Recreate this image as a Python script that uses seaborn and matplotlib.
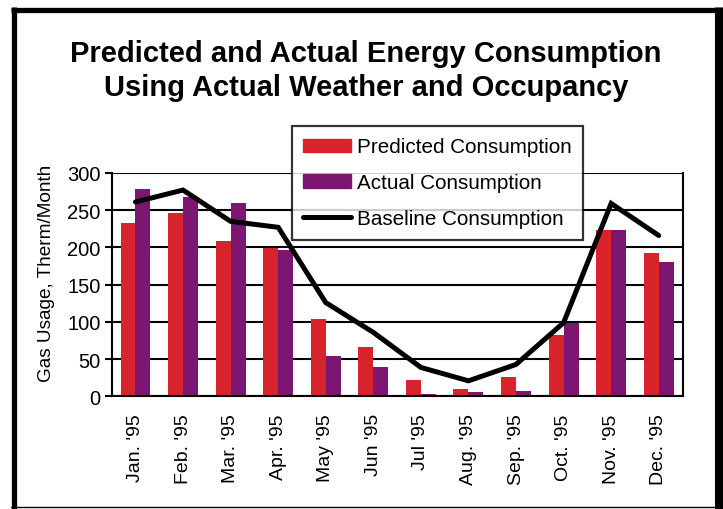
import numpy as np
import pandas as pd
import matplotlib
matplotlib.use('Agg')
import matplotlib.pyplot as plt
from matplotlib.lines import Line2D
from matplotlib.patches import Patch
import seaborn as sns

# values (therm/month)
months = ["Jan. '95", "Feb. '95", "Mar. '95", "Apr. '95", "May '95", "Jun '95",
          "Jul '95", "Aug. '95", "Sep. '95", "Oct. '95", "Nov. '95", "Dec. '95"]
predicted = [233, 246, 208, 199, 104, 66, 22, 10, 26, 83, 224, 192]
actual = [278, 268, 260, 196, 54, 39, 4, 6, 7, 99, 223, 181]
baseline = [261, 277, 235, 227, 126, 86, 39, 21, 43, 99, 259, 216]

series_names = ['Predicted Consumption', 'Actual Consumption', 'Baseline Consumption']
red = '#d9232b'
purple = '#7d1670'

sns.set_theme(style='white')
plt.rcParams['font.family'] = ['Liberation Sans', 'DejaVu Sans']
plt.rcParams.update({
    'text.color': 'black',
    'axes.labelcolor': 'black',
    'xtick.color': 'black',
    'ytick.color': 'black',
})

df = pd.DataFrame({
    'Month': months * 2,
    'Usage': predicted + actual,
    'Series': [series_names[0]] * 12 + [series_names[1]] * 12,
})

fig = plt.figure(figsize=(7.23, 5.10), dpi=100)
ax = fig.add_axes([0.1545, 0.2206, 0.7895, 0.4384])

sns.barplot(data=df, x='Month', y='Usage', hue='Series', order=months,
            palette=[red, purple], width=0.63, saturation=1, legend=False,
            linewidth=0, ax=ax)
ax.plot(np.arange(len(months)), baseline, color='black', lw=3.6,
        solid_joinstyle='miter', zorder=5)

ax.set_ylim(0, 300)
ax.set_xlim(-0.5, len(months) - 0.5)
ax.set_yticks(range(0, 301, 50))
ax.yaxis.grid(True, color='black', lw=1.5)
ax.set_axisbelow(True)
for side in ['left', 'bottom', 'right']:
    ax.spines[side].set_color('black')
    ax.spines[side].set_linewidth(1.5)
ax.spines['top'].set_visible(False)

ax.set_xticks(np.arange(len(months)))
ax.set_xticklabels(months, rotation=90, fontsize=14)
ax.set_xticks(np.arange(-0.5, len(months)), minor=True)
ax.tick_params(axis='x', which='major', length=0, pad=12)
ax.tick_params(axis='x', which='minor', length=5, width=1.5, color='black', direction='out')
ax.tick_params(axis='y', length=5, width=1.5, color='black', direction='out',
               labelsize=14.5, pad=3, left=True)
ax.set_xlabel('')
ax.set_ylabel('Gas Usage, Therm/Month', fontsize=13.7)
ax.yaxis.set_label_coords(-0.1, 0.553)

handles = [Patch(color=red), Patch(color=purple), Line2D([], [], color='black', lw=3.6)]
leg = fig.legend(handles, series_names, loc='upper left',
                 bbox_to_anchor=(292 / 723, 1 - 127 / 510), fontsize=14.9,
                 frameon=True, fancybox=False, shadow=False, handlelength=2.3,
                 handleheight=0.6, handletextpad=0.3, labelspacing=0.82,
                 borderpad=0.55, borderaxespad=0)
leg.get_frame().set_edgecolor('black')
leg.get_frame().set_linewidth(1.6)
leg.get_frame().set_facecolor('white')
leg.set_zorder(10)

fig.text(0.506, 1 - 40 / 510,
         'Predicted and Actual Energy Consumption\nUsing Actual Weather and Occupancy',
         ha='center', va='top', fontsize=21, fontweight='bold', linespacing=1.28)

# outer frame
W, H = 723, 510
fig.add_artist(Line2D([13.5 / W, 13.5 / W], [0, 1 - 8 / H], color='black', lw=3.8,
                      solid_capstyle='butt', transform=fig.transFigure))
fig.add_artist(Line2D([11 / W, 723 / W], [1 - 10.5 / H, 1 - 10.5 / H], color='black', lw=3.8,
                      solid_capstyle='butt', transform=fig.transFigure))
fig.add_artist(Line2D([718.5 / W, 718.5 / W], [0, 1 - 8 / H], color='black', lw=6.5,
                      solid_capstyle='butt', transform=fig.transFigure))
fig.add_artist(Line2D([11 / W, 714 / W], [1 - 507.5 / H, 1 - 507.5 / H], color='black', lw=1.0,
                      transform=fig.transFigure))

fig.savefig('out.png', dpi=100, facecolor='white')
